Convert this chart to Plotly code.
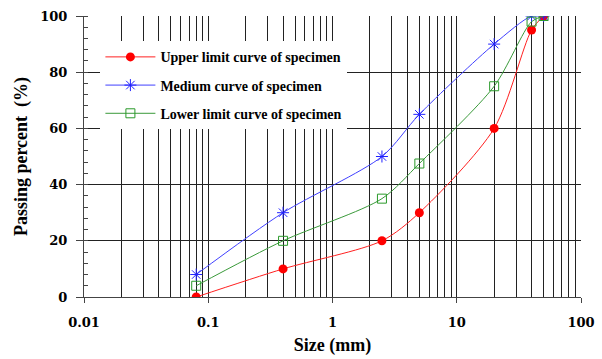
import plotly.graph_objects as go

sizes = [0.08, 0.4, 2.5, 5, 20, 40, 50]
upper = [0, 10, 20, 30, 60, 95, 100]
medium = [8, 30, 50, 65, 90, 100, 100]
lower = [4, 20, 35, 47.5, 75, 98, 100]
names = ["Upper limit curve of specimen", "Medium curve of specimen", "Lower limit curve of specimen"]
x_ticks = [0.01, 0.1, 1, 10, 100]
x_ticktext = ["0.01", "0.1", "1", "10", "100"]
x_minor = [m * d for d in [0.01, 0.1, 1, 10] for m in range(2, 10)]

SERIF = "Liberation Serif, Times New Roman, serif"
TICKF = "DejaVu Serif, serif"
NB = "\u00a0"

fig = go.Figure()
fig.add_trace(go.Scatter(x=sizes, y=upper, name=names[0], mode="lines+markers", legendgroup="a",
                         line=dict(color="#ff2020", width=1, shape="spline", smoothing=0.8),
                         marker=dict(symbol="circle", size=9, color="#ff0000")))
fig.add_trace(go.Scatter(x=sizes, y=medium, name=names[1], mode="lines+markers", legendgroup="b",
                         line=dict(color="#4040ff", width=1, shape="spline", smoothing=0.8),
                         marker=dict(symbol="asterisk-open", size=10, color="#2020ff", line=dict(width=1, color="#2020ff"))))
fig.add_trace(go.Scatter(x=sizes, y=lower, name=names[2], mode="lines+markers", legendgroup="c",
                         line=dict(color="#3a9a3a", width=1, shape="spline", smoothing=0.8),
                         marker=dict(symbol="square-open", size=9, color="#2a9a2a", line=dict(width=1))))

fig.update_layout(
    width=602, height=359,
    margin=dict(l=84, r=21, t=16, b=62),
    paper_bgcolor="white", plot_bgcolor="white",
    font=dict(family=SERIF, color="black"),
    legend=dict(x=0.033, y=0.91, xanchor="left", yanchor="top", bgcolor="white",
                font=dict(family=SERIF, size=14, weight="bold"),
                traceorder="grouped", tracegroupgap=7, itemwidth=50),
    showlegend=True,
)
fig.update_xaxes(
    type="log", range=[-2, 2], automargin=False,
    tickmode="array", tickvals=x_ticks, ticktext=x_ticktext,
    showline=True, linecolor="#444", linewidth=1,
    ticks="outside", ticklen=5, tickcolor="#444", ticklabelstandoff=8,
    showgrid=True, gridcolor="#222", gridwidth=1,
    minor=dict(tickmode="array", tickvals=x_minor, showgrid=True, gridcolor="#222", gridwidth=1, ticks=""),
    tickfont=dict(family=TICKF, size=13, weight="bold"),
    title=dict(text=NB * 3 + "Size (mm)", font=dict(family=SERIF, size=18, weight="bold"), standoff=9),
    zeroline=False,
)
fig.update_yaxes(
    range=[0, 100], dtick=20, automargin=False,
    showline=True, linecolor="#444", linewidth=1,
    ticks="outside", ticklen=7, tickcolor="#444", ticklabelstandoff=6,
    showgrid=True, gridcolor="#222", gridwidth=1,
    minor=dict(dtick=4, ticks="inside", ticklen=4, tickcolor="#444", showgrid=False),
    tickfont=dict(family=TICKF, size=13, weight="bold"),
    title=dict(text=NB * 5 + "Passing percent  (%)", font=dict(family=SERIF, size=18, weight="bold"), standoff=7),
    zeroline=False,
)

fig.write_html("out.html")
